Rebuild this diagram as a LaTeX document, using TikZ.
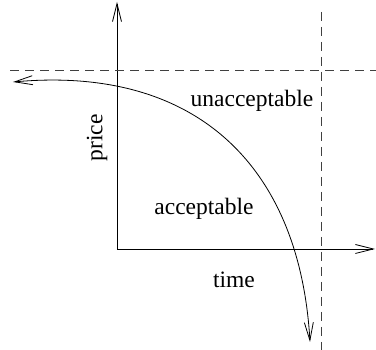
\documentclass[tikz,border=0pt]{standalone}
\usepackage{fontspec}
\setmainfont{Liberation Serif}
\usetikzlibrary{arrows.meta, positioning}
\tikzstyle{axis} = [line width=0.8pt,-{Straight Barb[length=18pt,width=9pt]}]
\tikzstyle{limit} = [line width=0.8pt, dash pattern=on 9pt off 6pt, black!75]
\tikzstyle{curve} = [line width=0.8pt,{Straight Barb[length=18pt,width=9pt]}-{Straight Barb[length=18pt,width=9pt]}]
\tikzstyle{label} = [font=\fontsize{23.5}{28}\selectfont, inner sep=0pt]

\begin{document}
\begin{tikzpicture}[x=1pt,y=-1pt]
    \useasboundingbox (0,0) rectangle (376,350);
    \coordinate (origin) at (117,249);
    \coordinate (ptop) at (117,2);
    \coordinate (tend) at (375,249);
    \coordinate (pleft) at (10,70);
    \coordinate (pright) at (376,70);
    \coordinate (ttop) at (321,12);
    \coordinate (tbot) at (321,350);
    \coordinate (cleft) at (13,82);
    \coordinate (cbot) at (310,342);

    \draw [axis] (origin) -- (ptop);
    \draw [axis] (origin) -- (tend);
    \draw [limit] (pleft) -- (pright);
    \draw [limit] (ttop) -- (tbot);
    \draw [curve] (cleft) .. controls (200,65) and (300,170) .. (cbot);

    \node (unacc) [label] at (252,101) {unacceptable};
    \node (acc) [label] at (204,209) {acceptable};
    \node (price) [label, rotate=90] at (97,138) {price};
    \node (time) [label] at (234,280) {time};
\end{tikzpicture}
\end{document}
